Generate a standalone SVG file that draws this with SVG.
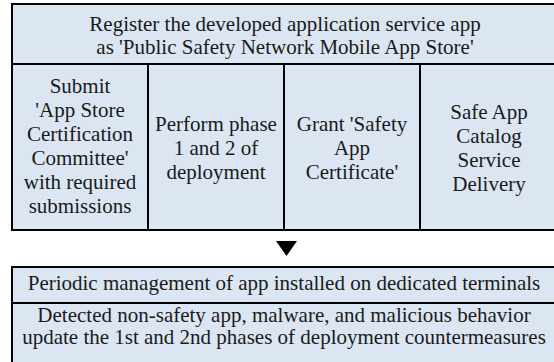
<svg xmlns="http://www.w3.org/2000/svg" width="554" height="362" viewBox="0 0 554 362">
<style>
.box{fill:#dce6f2;stroke:#000;stroke-width:2}
.ln{stroke:#000;stroke-width:2;fill:none}
text{font-family:"Liberation Serif","Times New Roman",serif;font-size:21px;fill:#1a1a1a;text-anchor:middle}
</style>
<rect width="554" height="362" fill="#fff"/>
<g id="register">
<rect class="box" x="12" y="4" width="546" height="226"/>
<text x="285" y="31">Register the developed application service app</text>
<text x="285" y="54">as 'Public Safety Network Mobile App Store'</text>
<line class="ln" x1="12" y1="64" x2="558" y2="64"/>
</g>
<g id="submit">
<line class="ln" x1="148" y1="64" x2="148" y2="230"/>
<text x="80" y="93">Submit</text>
<text x="80" y="117">'App Store</text>
<text x="80" y="141">Certification</text>
<text x="80" y="165">Committee'</text>
<text x="80" y="189">with required</text>
<text x="80" y="213">submissions</text>
</g>
<g id="perform">
<line class="ln" x1="284" y1="64" x2="284" y2="230"/>
<text x="216" y="131">Perform phase</text>
<text x="216" y="155">1 and 2 of</text>
<text x="216" y="179">deployment</text>
</g>
<g id="grant">
<line class="ln" x1="420" y1="64" x2="420" y2="230"/>
<text x="352" y="131">Grant 'Safety</text>
<text x="352" y="155">App</text>
<text x="352" y="179">Certificate'</text>
</g>
<g id="catalog">
<text x="489" y="119">Safe App</text>
<text x="489" y="143">Catalog</text>
<text x="489" y="167">Service</text>
<text x="489" y="191">Delivery</text>
</g>
<g id="connectors">
<polygon points="276,241 297,241 286.5,256" fill="#000"/>
</g>
<g id="periodic">
<rect class="box" x="12" y="267" width="546" height="110"/>
<text x="284" y="290">Periodic management of app installed on dedicated terminals</text>
<line class="ln" x1="12" y1="303" x2="558" y2="303"/>
</g>
<g id="detected">
<text x="284" y="322">Detected non-safety app, malware, and malicious behavior</text>
<text x="284" y="344">update the 1st and 2nd phases of deployment countermeasures</text>
</g>
</svg>
